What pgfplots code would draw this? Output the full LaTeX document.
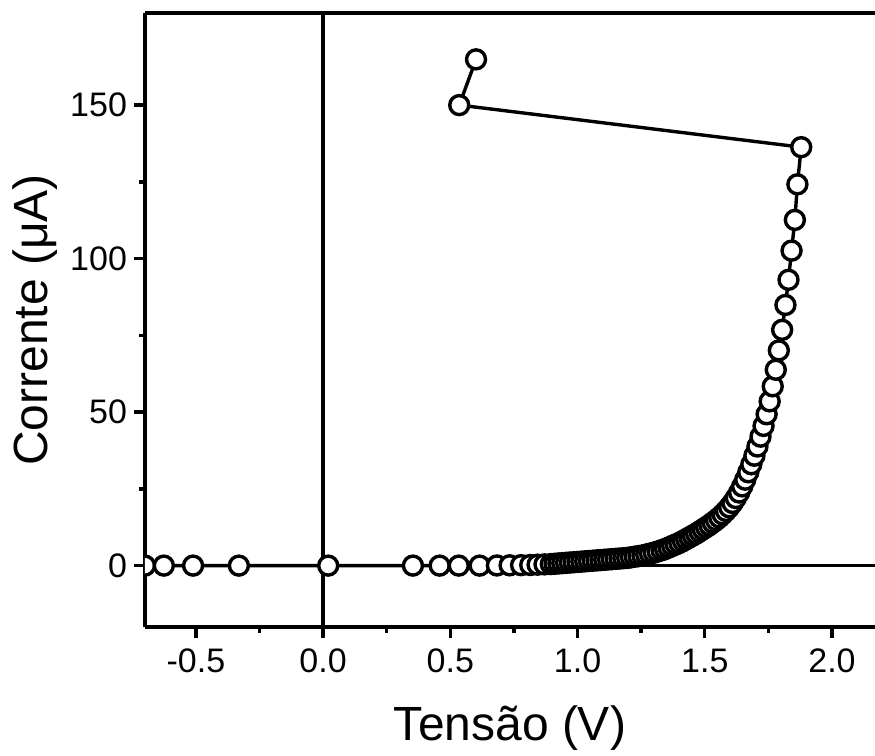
\documentclass[border=0pt]{standalone}
\usepackage{pgfplots}
\pgfplotsset{compat=1.18}
\usepackage{pgfplotstable}
\usepackage{fontspec}
\setmainfont{Liberation Sans}

\pgfplotstableread{
V I
-0.700 0
-0.626 0
-0.511 0
-0.331 0
0.020 0
0.353 0
0.458 0
0.533 0
0.615 0
0.683 0.05
0.733 0.1
0.778 0.15
0.814 0.2
0.843 0.3
0.870 0.4
0.895 0.5
0.910 0.6
0.925 0.7
0.940 0.8
0.955 0.9
0.970 1.0
0.985 1.1
1.000 1.2
1.015 1.3
1.030 1.4
1.045 1.5
1.060 1.6
1.075 1.7
1.090 1.8
1.105 1.9
1.120 2.0
1.135 2.1
1.150 2.2
1.165 2.3
1.180 2.4
1.195 2.5
1.210 2.7
1.225 2.9
1.240 3.1
1.255 3.3
1.270 3.6
1.285 3.9
1.300 4.2
1.315 4.6
1.330 5.0
1.344 5.4
1.358 5.9
1.372 6.4
1.386 6.9
1.400 7.4
1.414 8.0
1.427 8.6
1.440 9.2
1.453 9.8
1.466 10.4
1.479 11.1
1.492 11.8
1.505 12.5
1.518 13.2
1.531 14.0
1.544 14.8
1.557 15.7
1.570 16.7
1.583 17.8
1.596 19.0
1.609 20.4
1.622 22.0
1.635 23.8
1.647 25.8
1.659 28.0
1.671 30.4
1.683 33.0
1.695 35.8
1.707 38.8
1.719 42.0
1.731 45.5
1.743 49.3
1.755 53.5
1.767 58.4
1.779 63.8
1.791 70.1
1.804 76.8
1.817 84.9
1.829 93.1
1.841 102.6
1.854 112.6
1.864 124.2
1.879 136.3
0.535 150.0
0.601 164.9
}\ivdata

\begin{document}
\begin{tikzpicture}
\begin{axis}[
  scale only axis,
  width=365pt, height=307pt,
  xmin=-0.7, xmax=2.169,
  ymin=-20, ymax=180,
  axis x line*=box,
  axis y line*=left,
  xtick pos=bottom,
  ytick pos=left,
  axis line style={black, line width=1.7pt},
  xtick={-0.5,0,0.5,1,1.5,2},
  xticklabels={-0.5,0.0,0.5,1.0,1.5,2.0},
  ytick={0,50,100,150},
  yticklabels={0,50,100,150},
  minor x tick num=1,
  minor y tick num=1,
  tick align=outside,
  major tick length=5.5pt,
  minor tick length=3pt,
  tick style={black, line width=1.7pt},
  tick label style={font=\fontsize{17}{20}\selectfont},
  xticklabel style={yshift=-2pt},
  every axis x label/.style={at={(axis description cs:0.5,-0.165)}, anchor=center},
  every axis y label/.style={at={(axis description cs:-0.1507,0.5)}, rotate=90, anchor=center},
  label style={font=\fontsize{24}{28}\selectfont},
  xlabel={Tensão (V)},
  ylabel={Corrente (μA)},
  clip marker paths=true,
]
\addplot[black, line width=1.7pt, forget plot] coordinates {(-0.7,0) (2.169,0)};
\addplot[black, line width=1.7pt, forget plot] coordinates {(0,-20) (0,180)};
\addplot[black, line width=1.7pt, mark=*, mark size=4.75pt,
  mark options={fill=white, draw=black, line width=1.7pt}]
  table[x=V, y=I] {\ivdata};
\coordinate (BL) at (rel axis cs:0,0);
\coordinate (TR) at (rel axis cs:1,1);
\end{axis}
\pgfresetboundingbox
\path[use as bounding box] ([xshift=-72.5pt,yshift=-64pt]BL) rectangle ([yshift=6.5pt]TR);
\end{tikzpicture}
\end{document}
